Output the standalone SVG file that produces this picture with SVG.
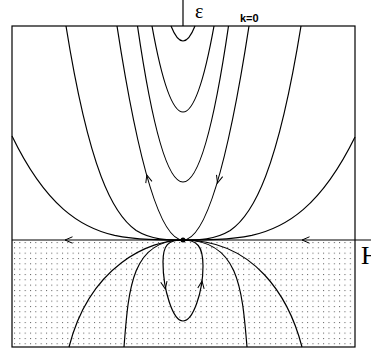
<svg xmlns="http://www.w3.org/2000/svg" width="371" height="353" viewBox="0 0 371 353">
<style>
.c{fill:none;stroke:#000;stroke-width:1.2}
.a{fill:none;stroke:#000;stroke-width:1}
.t{font-family:"Liberation Serif",serif}
</style>
<defs>
<pattern id="dots" patternUnits="userSpaceOnUse" x="14" y="242" width="5.33" height="5.33">
<rect x="0" y="0" width="1" height="1" fill="#555"/>
</pattern>
<path id="chev" d="M-7.5,-3.2 L0,0 L-7.5,3.2"/>
</defs>
<rect x="12" y="240" width="343" height="107" fill="url(#dots)"/>
<g id="frame">
<rect x="12" y="26" width="343" height="321" class="c"/>
<line x1="12" y1="240" x2="371" y2="240" class="c"/>
<line x1="183" y1="0" x2="183" y2="26" class="c"/>
</g>
<g id="connectors">
<path class="c" d="M171,26 Q183,56 195,26"/>
<path class="c" d="M152,26 Q183,198 214,26"/>
<path class="c" d="M137.5,26 Q183,338 228.5,26"/>
<path class="c" d="M117,26 Q183,454 249,26"/>
<path class="c" d="M66,26 C77.7,98.8 89.4,145.4 101.1,176.4 C112.8,207.3 124.5,222.4 136.2,230.5 C151.8,240 167.4,240 183,240 C198.7,240 214.5,240 230.2,230.5 C242,222.4 253.8,207.3 265.6,176.4 C277.4,145.4 289.2,98.8 301,26"/>
<path class="c" d="M12,136 C29.1,171.4 46.2,194 63.3,209.1 C80.4,224.1 97.5,231.5 114.6,235.4 C137.4,240 160.2,240 183,240 C205.9,240 228.9,240 251.8,235.4 C269,231.5 286.2,224.3 303.4,209.4 C320.6,194.5 337.8,172 355,137"/>
<path class="c" d="M183,240 C150,240 90,265 69,347"/>
<path class="c" d="M183,240 C132,240 128.6,287 124,347"/>
<path class="c" d="M183,240 C238.3,240 242,287 247,347"/>
<path class="c" d="M183,240 C254.5,240 289,297 302,347"/>
<path class="c" d="M183,240 C168,240 163,245 163,262 C163,290 173,321 183,321 C193,321 203,292 203,266 C203,246 197,240 183,240"/>
<use href="#chev" class="a" transform="translate(65,240) rotate(180)"/>
<use href="#chev" class="a" transform="translate(302,240) rotate(180)"/>
<use href="#chev" class="a" transform="translate(146.8,175) rotate(-106)"/>
<use href="#chev" class="a" transform="translate(217.5,183) rotate(106)"/>
<use href="#chev" class="a" transform="translate(165.3,289) rotate(79)"/>
<use href="#chev" class="a" transform="translate(202,281) rotate(-82)"/>
</g>
<g id="center">
<circle cx="183" cy="240" r="2.5" fill="#000"/>
</g>
<g id="labels">
<text class="t" x="195" y="18" font-size="20">ε</text>
<text x="240" y="22" font-size="11" font-weight="bold" font-family="Liberation Sans, sans-serif">k=0</text>
<text class="t" x="361" y="264" font-size="26">H</text>
</g>
</svg>
